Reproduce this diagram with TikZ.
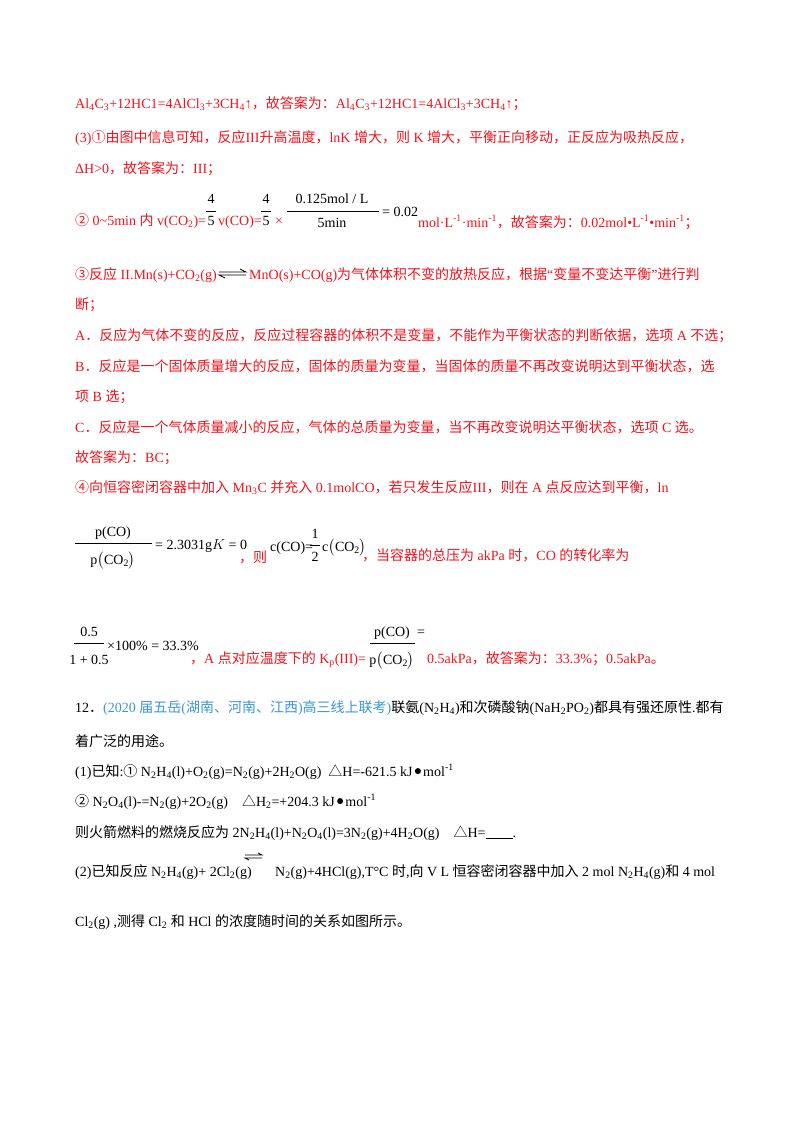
\documentclass[tikz,border=0pt]{standalone}
\usepackage{fontspec}
\usepackage{amsmath}
\setmainfont{Liberation Serif}
\newfontfamily\cjk{Noto Sans CJK SC}
\newfontfamily\lat{Liberation Serif}
\newXeTeXintercharclass\cjkclass
\makeatletter
\count@="4E00
\loop\XeTeXcharclass\count@=\cjkclass\advance\count@ 1 \ifnum\count@<"A000 \repeat
\count@="3000
\loop\XeTeXcharclass\count@=\cjkclass\advance\count@ 1 \ifnum\count@<"3040 \repeat
\count@="FF00
\loop\XeTeXcharclass\count@=\cjkclass\advance\count@ 1 \ifnum\count@<"FF20 \repeat
\count@="2460
\loop\XeTeXcharclass\count@=\cjkclass\advance\count@ 1 \ifnum\count@<"2474 \repeat
\XeTeXcharclass"25B3=\cjkclass
\makeatother
\XeTeXinterchartoks 0 \cjkclass={\cjk}
\XeTeXinterchartoks 4095 \cjkclass={\cjk}
\XeTeXinterchartoks \cjkclass 0={\lat}
\XeTeXinterchartoks \cjkclass 4095={\lat}
\XeTeXinterchartokenstate=1
\newcommand\lo[1]{\textsubscript{#1}}
\newcommand\hi[1]{\textsuperscript{#1}}
\newcommand\dotb{\,\raisebox{0.3ex}{\tikz\fill (0,0) circle (3pt);}\,}
\definecolor{myred}{HTML}{F0141E}
\definecolor{myblue}{HTML}{3C96D2}
\tikzset{
 t/.style={anchor=base west,inner sep=0,font=\fontsize{14}{16}\selectfont,text=myred},
 k/.style={anchor=base west,inner sep=0,font=\fontsize{14}{16}\selectfont,text=black},
 kc/.style={anchor=base,inner sep=0,font=\fontsize{14}{16}\selectfont,text=black},
 bar/.style={black,line width=0.6pt}
}
\begin{document}
\begin{tikzpicture}[x=1pt,y=-1pt]
\useasboundingbox[fill=white] (0,0) rectangle (800,1132);
\node[t] (l1) at (75,108) {Al\lo{4}C\lo{3}+12HC1=4AlCl\lo{3}+3CH\lo{4}↑，故答案为：Al\lo{4}C\lo{3}+12HC1=4AlCl\lo{3}+3CH\lo{4}↑；};
\node[t] (l2) at (75,142) {(3)①由图中信息可知，反应III升高温度，lnK 增大，则 K 增大，平衡正向移动，正反应为吸热反应，};
\node[t] (l3) at (75,173) {ΔH>0，故答案为：III；};
% line 4
\node[t] (l4a) at (75,225) {② 0\textasciitilde5min 内 v(CO\lo{2})=};
\node[kc] (f1n) at (211,203) {4};
\node[kc] (f1d) at (211,225) {5};
\draw[bar] (206,211) -- (216,211);
\node[t] (l4b) at (218,225) {v(CO)=};
\node[kc] (f2n) at (266,203) {4};
\node[kc] (f2d) at (266,225) {5};
\draw[bar] (261,211) -- (271,211);
\node[t] (l4c) at (275,225) {×};
\node[kc] (f3n) at (332,203) {0.125mol / L};
\node[kc] (f3d) at (332,227) {5min};
\draw[bar] (287,211) -- (379,211);
\node[k] (l4d) at (382,216) {= 0.02};
\node[t] (l4e) at (418,227) {mol·L\hi{-1}·min\hi{-1}，故答案为：0.02mol•L\hi{-1}•min\hi{-1}；};
% line 5
\node[t] (l5a) at (75,279) {③反应 II.Mn(s)+CO\lo{2}(g)};
\draw[black,line width=0.8pt] (219,272) -- (246,272) -- (240,269);
\draw[black,line width=0.8pt] (246,275) -- (219,275) -- (225,278);
\node[t] (l5b) at (249,279) {MnO(s)+CO(g)为气体体积不变的放热反应，根据“变量不变达平衡”进行判};
\node[t] (l6) at (75,309) {断；};
\node[t] (la) at (75,340) {A．反应为气体不变的反应，反应过程容器的体积不是变量，不能作为平衡状态的判断依据，选项 A 不选；};
\node[t] (lb) at (75,371) {B．反应是一个固体质量增大的反应，固体的质量为变量，当固体的质量不再改变说明达到平衡状态，选};
\node[t] (lb2) at (75,401) {项 B 选；};
\node[t] (lc) at (75,432) {C．反应是一个气体质量减小的反应，气体的总质量为变量，当不再改变说明达平衡状态，选项 C 选。};
\node[t] (ld) at (75,462) {故答案为：BC；};
\node[t] (le) at (75,492) {④向恒容密闭容器中加入 Mn\lo{3}C 并充入 0.1molCO，若只发生反应III，则在 A 点反应达到平衡，ln};
% line formula 1
\node[kc] (g1n) at (113,536) {p(CO)};
\node[kc] (g1d) at (113,564) {p$\bigl($CO\lo{2}$\bigr)$};
\draw[bar] (75,543) -- (152,543);
\node[k] (g1e) at (155,549) {= 2.3031g$K$ = 0};
\node[t] (g1f) at (239,562) {，则};
\node[k] (g1g) at (270,551) {c(CO)=};
\node[kc] (g2n) at (315,538) {1};
\node[kc] (g2d) at (315,561) {2};
\draw[bar] (310,545) -- (320,545);
\node[k] (g2e) at (322,551) {c$\bigl($CO\lo{2}$\bigr)$};
\node[t] (g2f) at (362,560) {，当容器的总压为 akPa 时，CO 的转化率为};
% line formula 2
\node[kc] (h1n) at (89,636) {0.5};
\node[kc] (h1d) at (89,664) {1 + 0.5};
\draw[bar] (74,643) -- (104,643);
\node[k] (h1e) at (107,650) {×100\% = 33.3\%};
\node[t] (h1f) at (190,663) {，A 点对应温度下的 K\lo{p}(III)=};
\node[kc] (h2n) at (392,636) {p(CO)};
\node[kc] (h2d) at (392,664) {p$\bigl($CO\lo{2}$\bigr)$};
\draw[bar] (370,643) -- (415,643);
\node[k] (h2e) at (417,636) {=};
\node[t] (h2f) at (427,663) {0.5akPa，故答案为：33.3\%；0.5akPa。};
% question 12
\node[k] (q1) at (75,712) {12．\textcolor{myblue}{(2020 届五岳(湖南、河南、江西)高三线上联考)}联氨(N\lo{2}H\lo{4})和次磷酸钠(NaH\lo{2}PO\lo{2})都具有强还原性.都有};
\node[k] (q2) at (75,746) {着广泛的用途。};
\node[k] (q3) at (75,776) {(1)已知:① N\lo{2}H\lo{4}(l)+O\lo{2}(g)=N\lo{2}(g)+2H\lo{2}O(g)\ \ △H=-621.5 kJ\dotb mol\hi{-1}};
\node[k] (q4) at (75,806) {② N\lo{2}O\lo{4}(l)-=N\lo{2}(g)+2O\lo{2}(g)\ \ \ \ △H\lo{2}=+204.3 kJ\dotb mol\hi{-1}};
\node[k] (q5) at (75,837) {则火箭燃料的燃烧反应为 2N\lo{2}H\lo{4}(l)+N\lo{2}O\lo{4}(l)=3N\lo{2}(g)+4H\lo{2}O(g)\ \ \ \ △H=\rule[-1pt]{27pt}{0.5pt}.};
\node[k] (q6a) at (75,876) {(2)已知反应 N\lo{2}H\lo{4}(g)+ 2Cl\lo{2}(g)};
\draw[black,line width=0.7pt] (245,855) -- (262,855) -- (258,853);
\draw[black,line width=0.7pt] (262,858) -- (245,858) -- (249,860);
\node[k] (q6b) at (275,876) {N\lo{2}(g)+4HCl(g),T°C 时,向 V L 恒容密闭容器中加入 2 mol N\lo{2}H\lo{4}(g)和 4 mol};
\node[k] (q7) at (75,926) {Cl\lo{2}(g) ,测得 Cl\lo{2} 和 HCl 的浓度随时间的关系如图所示。};
\end{tikzpicture}
\end{document}
